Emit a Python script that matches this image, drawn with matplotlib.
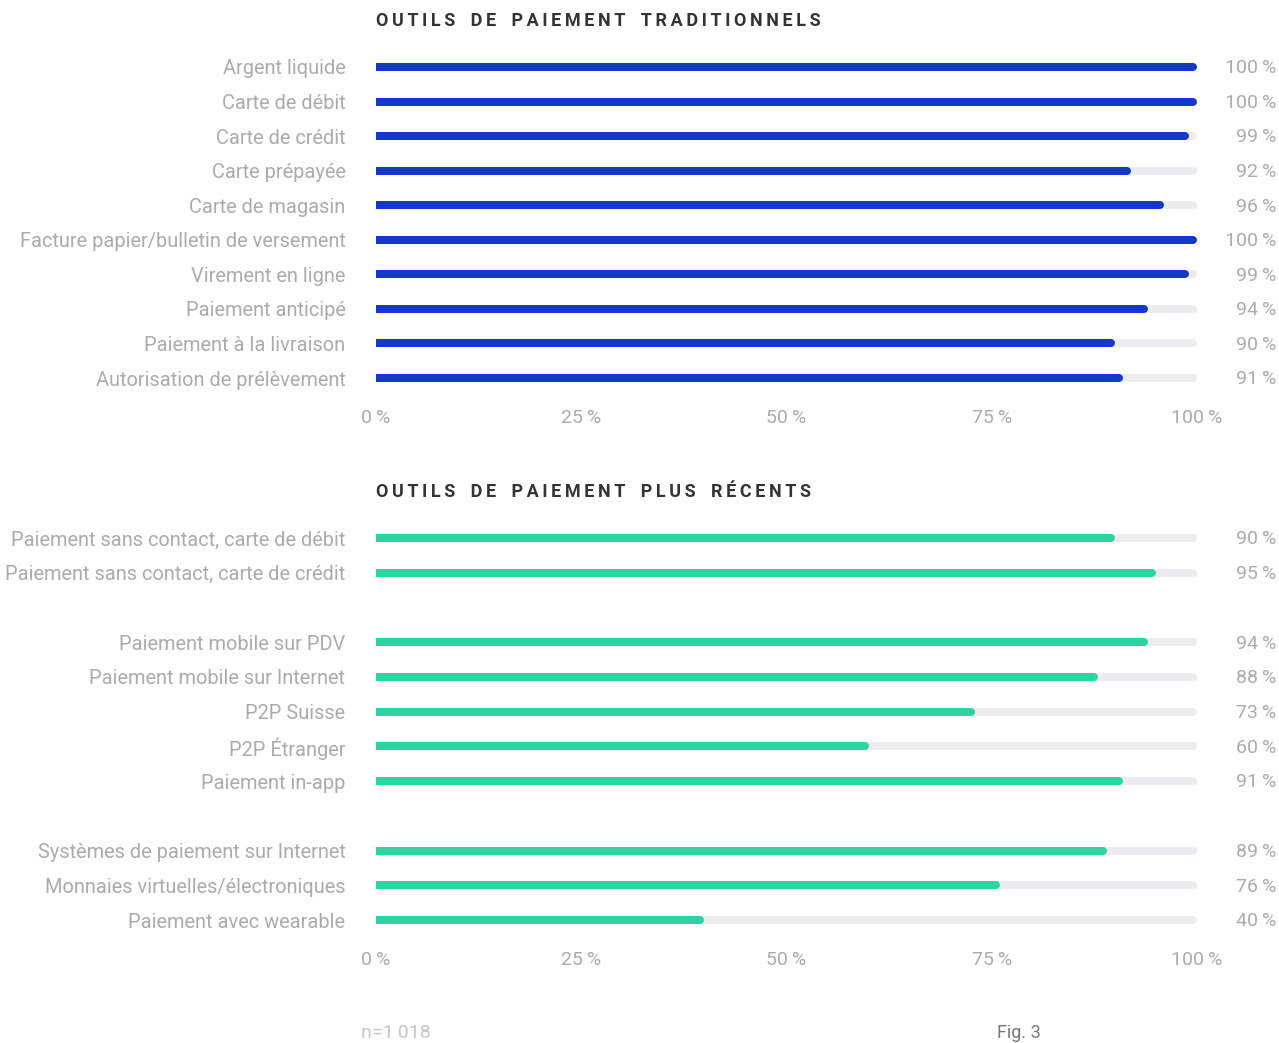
import matplotlib.pyplot as plt
from matplotlib.transforms import blended_transform_factory

plt.rcParams["font.family"] = ["Roboto", "DejaVu Sans"]

trad_labels = ["Argent liquide", "Carte de débit", "Carte de crédit", "Carte prépayée",
               "Carte de magasin", "Facture papier/bulletin de versement", "Virement en ligne",
               "Paiement anticipé", "Paiement à la livraison", "Autorisation de prélèvement"]
trad_values = [100, 100, 99, 92, 96, 100, 99, 94, 90, 91]

new_labels = ["Paiement sans contact, carte de débit", "Paiement sans contact, carte de crédit",
              "Paiement mobile sur PDV", "Paiement mobile sur Internet", "P2P Suisse",
              "P2P Étranger", "Paiement in-app", "Systèmes de paiement sur Internet",
              "Monnaies virtuelles/électroniques", "Paiement avec wearable"]
new_values = [90, 95, 94, 88, 73, 60, 91, 89, 76, 40]
new_rows = [0, 1, 3, 4, 5, 6, 7, 9, 10, 11]

xticks = [0, 25, 50, 75, 100]
xtick_labels = ["0\u2009%", "25\u2009%", "50\u2009%", "75\u2009%", "100\u2009%"]

W, H = 1279, 1043
fig = plt.figure(figsize=(W / 100, H / 100), dpi=100)

BLUE = "#1538c9"
GREEN = "#2ed3a2"
TRACK = "#ebebf0"
LABEL = "#ababab"
TITLE = "#333333"


def spaced(s):
    return "\u2009".join(s).replace("\u2009 \u2009", "\u2009\u2009 \u2009")


def panel(top_px, bot_px, rows, labels, values, color, nrows):
    ax = fig.add_axes([376 / W, 1 - bot_px / H, 821 / W, (bot_px - top_px) / H])
    lw = 8 * 72 / 100
    r = 4 / 821 * 100
    for y, v in zip(rows, values):
        ax.plot([r, 100 - r], [y, y], color=TRACK, lw=lw, solid_capstyle="round", zorder=1)
        ax.plot([r, v - r], [y, y], color=color, lw=lw, solid_capstyle="round", zorder=2)
        ax.barh(y, 2 * r, height=8 / 34.7, color=color, zorder=2)
    ax.set_xlim(0, 100)
    ax.set_ylim(nrows - 0.5, -0.5)
    ax.set_yticks(rows)
    ax.set_yticklabels(labels, fontsize=14.4, color=LABEL)
    ax.set_xticks(xticks)
    ax.set_xticklabels(xtick_labels, fontsize=14, color=LABEL)
    ax.tick_params(length=0)
    ax.tick_params(axis="y", pad=22)
    ax.tick_params(axis="x", pad=10)
    for s in ax.spines.values():
        s.set_visible(False)
    tr = blended_transform_factory(fig.transFigure, ax.transData)
    for y, v in zip(rows, values):
        ax.text(1276 / W, y + 0.04, f"{v}\u2009%", transform=tr, ha="right", va="center",
                fontsize=14, color=LABEL)
    return ax


panel(49.7, 395.3, list(range(10)), trad_labels, trad_values, BLUE, 10)
panel(520.6, 937.4, new_rows, new_labels, new_values, GREEN, 12)

fig.text(376 / W, 1 - 21 / H, spaced("OUTILS DE PAIEMENT TRADITIONNELS"), fontsize=13,
         fontweight="bold", color=TITLE, va="center", ha="left")
fig.text(376 / W, 1 - 492 / H, spaced("OUTILS DE PAIEMENT PLUS RÉCENTS"), fontsize=13,
         fontweight="bold", color=TITLE, va="center", ha="left")

fig.text(361 / W, 1 - 1033 / H, "n=1\u2009018", fontsize=14, color="#c4c4cc",
         va="center", ha="left", fontstretch="condensed")
fig.text(997 / W, 1 - 1033 / H, "Fig. 3", fontsize=13, color="#777777",
         va="center", ha="left")

fig.savefig("out.png", dpi=100, facecolor="white")
